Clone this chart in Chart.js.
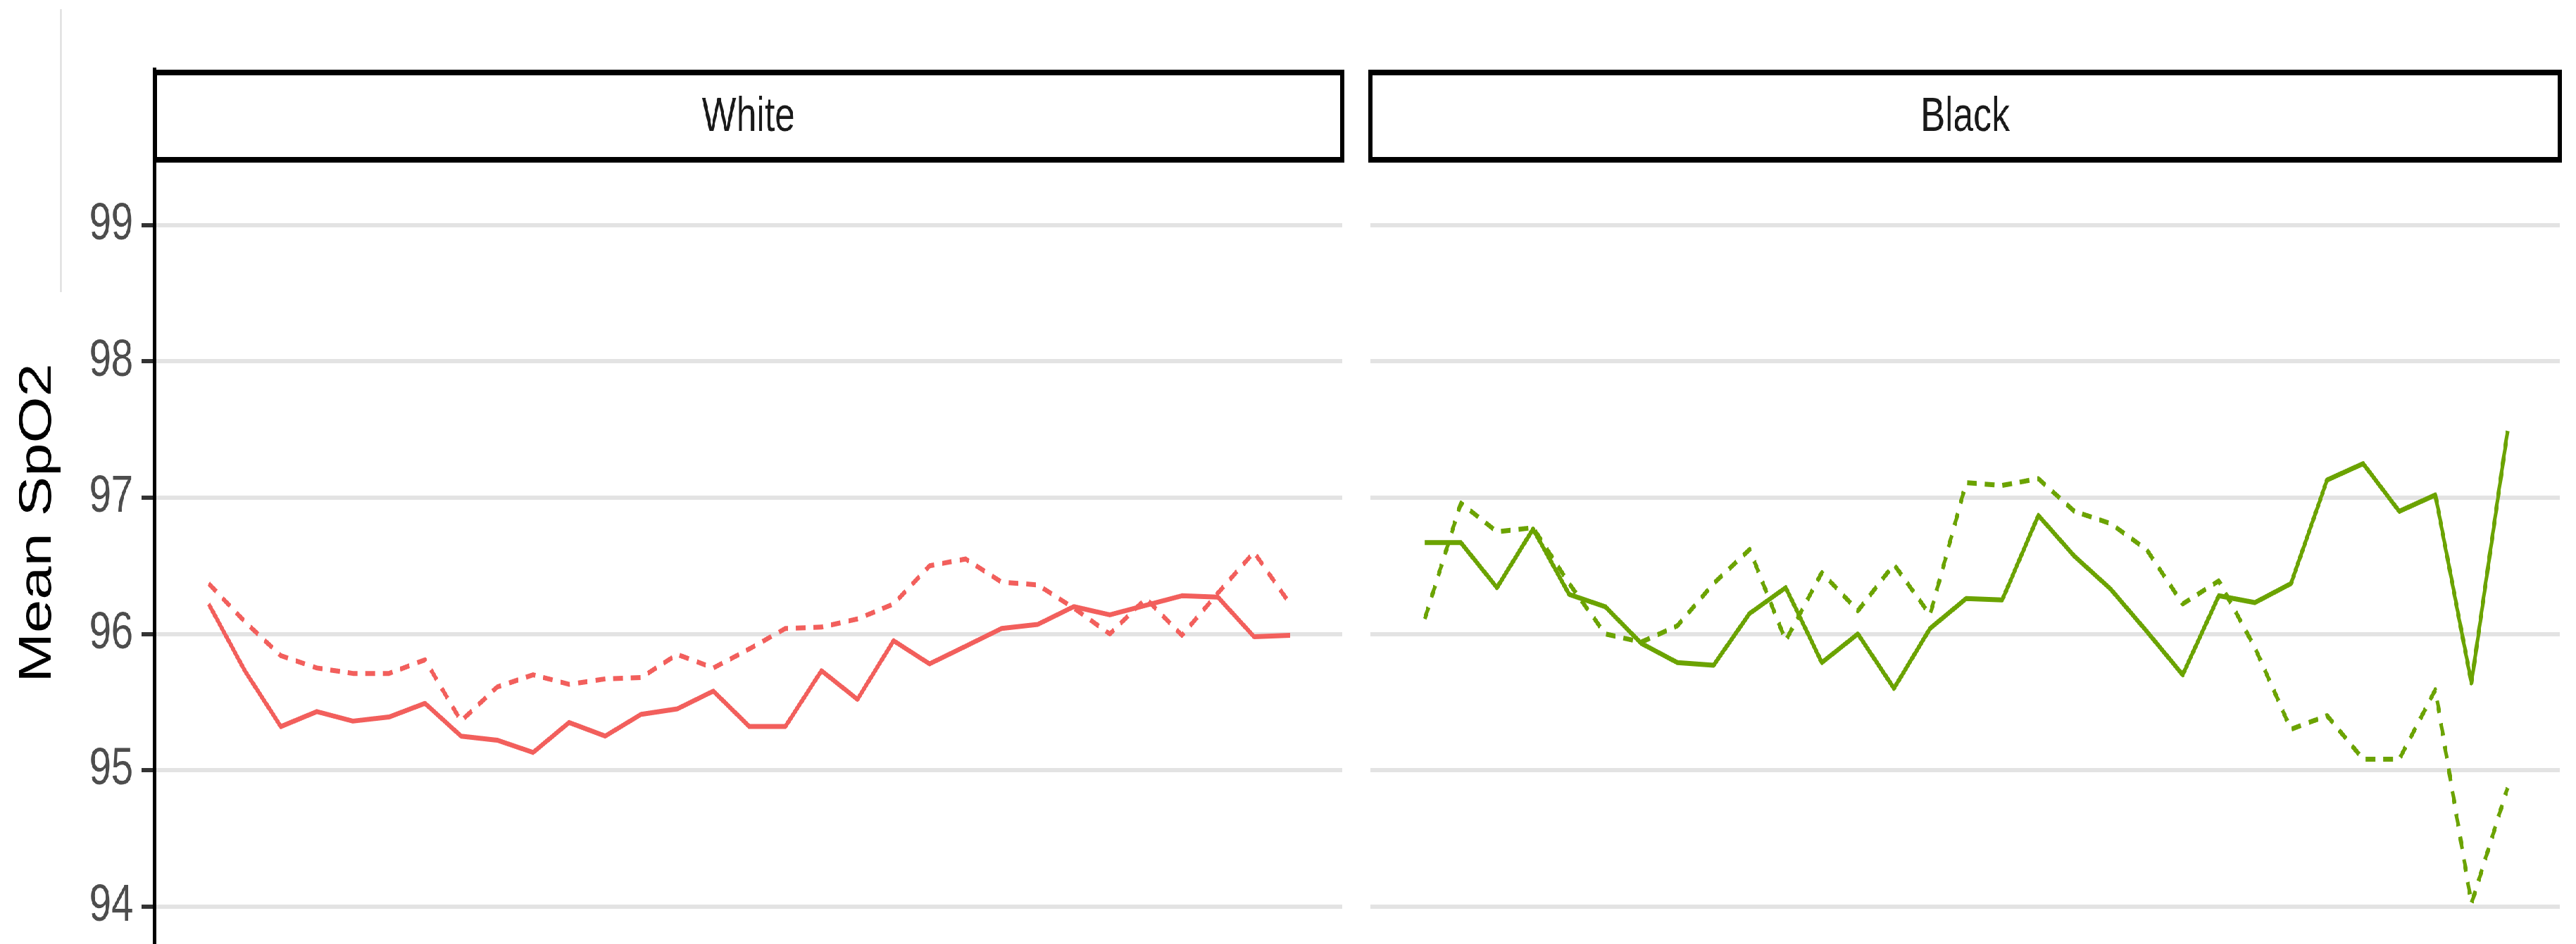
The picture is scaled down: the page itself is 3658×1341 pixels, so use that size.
<!DOCTYPE html>
<html>
<head>
<meta charset="utf-8">
<title>Mean SpO2 by race</title>
<script src="https://cdn.jsdelivr.net/npm/chart.js@4.4.1/dist/chart.umd.min.js"></script>
<style>
  html, body { margin: 0; padding: 0; background: #fff; overflow: hidden; }
  /* the figure is laid out wide and then compressed horizontally */
  #figure { position: relative; width: 4813px; height: 1387px; transform: scaleX(0.76); transform-origin: 0 0; }
  #figure canvas { position: absolute; top: 0; }
  #panel-white { left: 0; }
  #panel-black { left: 2534px; }
</style>
</head>
<body>
<div id="figure">
  <canvas id="panel-white" width="2534" height="1387"></canvas>
  <canvas id="panel-black" width="2279" height="1387"></canvas>
</div>
<script>
const timePoints = [0, 1, 2, 3, 4, 5, 6, 7, 8, 9, 10, 11, 12, 13, 14, 15, 16, 17, 18, 19, 20, 21, 22, 23, 24, 25, 26, 27, 28, 29, 30];

const whiteSolid = [96.22, 95.73, 95.32, 95.43, 95.36, 95.39, 95.49, 95.25, 95.22, 95.13, 95.35,
  95.25, 95.41, 95.45, 95.58, 95.32, 95.32, 95.73, 95.52, 95.95, 95.78,
  95.91, 96.04, 96.07, 96.20, 96.14, 96.21, 96.28, 96.27, 95.98, 95.99];
const whiteDashed = [96.37, 96.09, 95.84, 95.75, 95.71, 95.71, 95.81, 95.36, 95.61, 95.70, 95.63,
  95.67, 95.68, 95.85, 95.75, 95.89, 96.04, 96.05, 96.11, 96.22, 96.50,
  96.55, 96.38, 96.36, 96.19, 96.00, 96.26, 95.99, 96.30, 96.60, 96.22];

const blackSolid = [96.67, 96.67, 96.34, 96.77, 96.29, 96.20, 95.93, 95.79, 95.77, 96.15, 96.34,
  95.79, 96.00, 95.60, 96.04, 96.26, 96.25, 96.87, 96.57, 96.33, 96.02,
  95.70, 96.28, 96.23, 96.37, 97.13, 97.25, 96.90, 97.02, 95.64, 97.49];
const blackDashed = [96.11, 96.96, 96.75, 96.78, 96.37, 96.00, 95.94, 96.06, 96.37, 96.62, 95.95,
  96.45, 96.17, 96.51, 96.14, 97.11, 97.09, 97.14, 96.90, 96.81, 96.62,
  96.22, 96.39, 95.90, 95.30, 95.40, 95.08, 95.08, 95.59, 94.02, 94.87];

const yTicks = [94, 95, 96, 97, 98, 99];
const panelNames = ['White', 'Black'];
const panelColors = ['#F25F5C', '#6BA300'];

const FONT = "'Liberation Sans', Arial, Helvetica, sans-serif";
Chart.defaults.font.family = FONT;

// facet strip (boxed label above each panel), plus the stray rule at the top left
const stripPlugin = {
  id: 'strip',
  afterDraw(chart, args, opts) {
    const { ctx, chartArea } = chart;
    const top = chartArea.top + 4;
    const h = 124;
    const w = chartArea.right - chartArea.left;
    ctx.save();
    ctx.fillStyle = '#ffffff';
    ctx.fillRect(chartArea.left, top, w, h);
    ctx.lineWidth = 8;
    ctx.strokeStyle = '#000000';
    ctx.strokeRect(chartArea.left, top, w, h);
    ctx.fillStyle = '#1a1a1a';
    ctx.font = '68px ' + FONT;
    ctx.textAlign = 'center';
    ctx.textBaseline = 'middle';
    ctx.fillText(opts.label, chartArea.left + w / 2, top + h / 2 + 2);
    if (opts.edgeLine) {
      ctx.strokeStyle = '#d9d9d9';
      ctx.lineWidth = 3;
      ctx.beginPath();
      ctx.moveTo(114, 13);
      ctx.lineTo(114, 415);
      ctx.stroke();
    }
    ctx.restore();
  }
};

function series(values) {
  return timePoints.map((t, i) => ({ x: t, y: values[i] }));
}

function makePanel(canvasId, name, color, solid, dashed, withAxis, padLeft, padRight) {
  const yScale = {
    min: 93.486,
    max: 100.142,
    afterBuildTicks: (scale) => { scale.ticks = yTicks.map(v => ({ value: v })); },
    afterFit: (scale) => {
      scale.width = withAxis ? 289 : 0;
      scale.paddingTop = 0;
      scale.paddingBottom = 0;
    },
    grid: {
      color: '#e3e3e3',
      lineWidth: 6,
      drawTicks: withAxis,
      tickColor: '#333333',
      tickWidth: 6,
      tickLength: 24
    },
    border: { display: withAxis, color: '#000000', width: 6 },
    ticks: {
      display: withAxis,
      color: '#4d4d4d',
      font: { size: 74 },
      padding: 16
    },
    title: {
      display: withAxis,
      text: 'Mean SpO2',
      color: '#000000',
      font: { size: 85 },
      padding: { top: 21, bottom: 0 }
    }
  };

  return new Chart(document.getElementById(canvasId), {
    type: 'line',
    data: {
      datasets: [
        {
          label: name + ' (solid)',
          data: series(solid),
          borderColor: color,
          borderWidth: 7,
          borderJoinStyle: 'round',
          pointRadius: 0,
          tension: 0
        },
        {
          label: name + ' (dashed)',
          data: series(dashed),
          borderColor: color,
          borderWidth: 7,
          borderDash: [18, 15],
          borderJoinStyle: 'round',
          pointRadius: 0,
          tension: 0
        }
      ]
    },
    options: {
      responsive: false,
      animation: false,
      devicePixelRatio: 1,
      layout: { padding: { top: 99, bottom: 0, left: padLeft, right: padRight } },
      plugins: {
        legend: { display: false },
        tooltip: { enabled: false },
        strip: { label: name, edgeLine: withAxis }
      },
      scales: {
        x: { type: 'linear', min: -1.5, max: 31.45, display: false },
        y: yScale
      }
    },
    plugins: [stripPlugin]
  });
}

makePanel('panel-white', panelNames[0], panelColors[0], whiteSolid, whiteDashed, true, 0, 26);
makePanel('panel-black', panelNames[1], panelColors[1], blackSolid, blackDashed, false, 27, 30);
</script>
</body>
</html>
